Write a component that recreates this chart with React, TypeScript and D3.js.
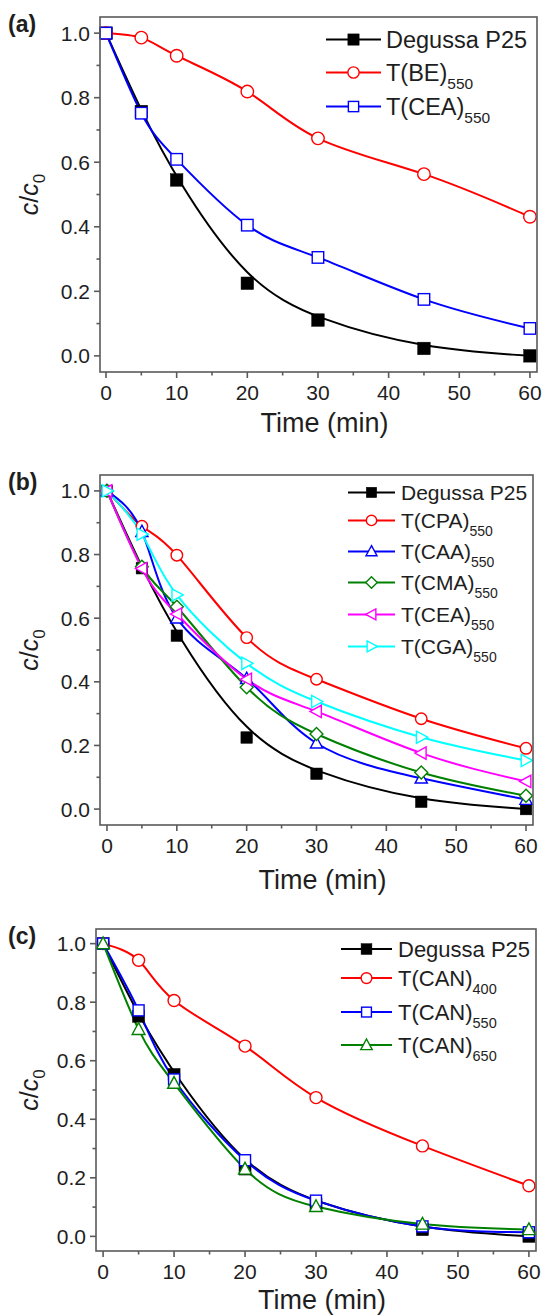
import React from 'react';
import * as d3 from 'd3';

// ---------- data ----------
const TIME = [0, 5, 10, 20, 30, 45, 60];
const X_TICKS = [0, 10, 20, 30, 40, 50, 60];
const X_MINOR = [5, 15, 25, 35, 45, 55];
const Y_TICKS = [0, 0.2, 0.4, 0.6, 0.8, 1.0];
const Y_MINOR = [0.1, 0.3, 0.5, 0.7, 0.9];

// panel (a)
const P25 = [1.0, 0.757, 0.545, 0.225, 0.111, 0.023, 0.0];
const A_BE550 = [1.0, 0.986, 0.93, 0.819, 0.674, 0.563, 0.431];
const A_CEA550 = [1.0, 0.752, 0.609, 0.405, 0.305, 0.175, 0.085];
// panel (b)
const B_CPA550 = [1.0, 0.889, 0.798, 0.539, 0.408, 0.284, 0.191];
const B_CAA550 = [1.0, 0.872, 0.6, 0.41, 0.207, 0.097, 0.03];
const B_CMA550 = [1.0, 0.762, 0.636, 0.383, 0.236, 0.115, 0.042];
const B_CEA550 = [1.0, 0.756, 0.613, 0.408, 0.307, 0.176, 0.087];
const B_CGA550 = [1.0, 0.864, 0.673, 0.458, 0.338, 0.226, 0.153];
// panel (c)
const C_P25 = [1.0, 0.752, 0.553, 0.23, 0.11, 0.023, 0.0];
const C_CAN400 = [1.0, 0.943, 0.806, 0.65, 0.474, 0.309, 0.173];
const C_CAN550 = [1.0, 0.772, 0.536, 0.26, 0.122, 0.034, 0.014];
const C_CAN650 = [1.0, 0.707, 0.523, 0.23, 0.102, 0.042, 0.023];

const NAMES_A = [['Degussa P25', ''], ['T(BE)', '550'], ['T(CEA)', '550']];
const NAMES_B = [['Degussa P25', ''], ['T(CPA)', '550'], ['T(CAA)', '550'], ['T(CMA)', '550'], ['T(CEA)', '550'], ['T(CGA)', '550']];
const NAMES_C = [['Degussa P25', ''], ['T(CAN)', '400'], ['T(CAN)', '550'], ['T(CAN)', '650']];

// ---------- styles ----------
const FONT = '"Liberation Sans", Arial, Helvetica, sans-serif';
const TEXT = '#1e1e1e';
const FRAME = '#5a5a5a';
const BLACK = '#000000';
const RED = '#ff0000';
const BLUE = '#0000ff';
const GREEN = '#008000';
const MAGENTA = '#ff00ff';
const CYAN = '#00ffff';

type Shape = 'squareF' | 'circle' | 'square' | 'triUp' | 'diamond' | 'triLeft' | 'triRight';

interface Series { name: string[]; values: number[]; color: string; shape: Shape; basis?: boolean }
interface Panel {
  letter: string; left: number; right: number; top: number; bottom: number;
  xDom: number[]; tickFont: number; titleFont: number; titleBaseline: number;
  legLine: number[]; legMarker: number; legText: number; legBase: number[]; legFont: number; subFont: number;
  mSize: number; series: Series[];
}

const PANELS: Panel[] = [
  {
    letter: '(a)', left: 100, right: 537, top: 17, bottom: 372, xDom: [-0.85, 61],
    tickFont: 21, titleFont: 27, titleBaseline: 432,
    legLine: [326, 381], legMarker: 353.5, legText: 386, legBase: [48, 81, 115], legFont: 23.5, subFont: 15.5,
    mSize: 12.5,
    series: [
      { name: NAMES_A[0], values: P25, color: BLACK, shape: 'squareF', basis: true },
      { name: NAMES_A[1], values: A_BE550, color: RED, shape: 'circle' },
      { name: NAMES_A[2], values: A_CEA550, color: BLUE, shape: 'square' },
    ],
  },
  {
    letter: '(b)', left: 100, right: 533, top: 475, bottom: 825, xDom: [-1, 61],
    tickFont: 21, titleFont: 27, titleBaseline: 889,
    legLine: [348, 395], legMarker: 371.5, legText: 401, legBase: [500, 528, 559, 590, 622, 654], legFont: 21, subFont: 14,
    mSize: 11.5,
    series: [
      { name: NAMES_B[0], values: P25, color: BLACK, shape: 'squareF', basis: true },
      { name: NAMES_B[1], values: B_CPA550, color: RED, shape: 'circle' },
      { name: NAMES_B[2], values: B_CAA550, color: BLUE, shape: 'triUp' },
      { name: NAMES_B[3], values: B_CMA550, color: GREEN, shape: 'diamond' },
      { name: NAMES_B[4], values: B_CEA550, color: MAGENTA, shape: 'triLeft' },
      { name: NAMES_B[5], values: B_CGA550, color: CYAN, shape: 'triRight' },
    ],
  },
  {
    letter: '(c)', left: 96, right: 536, top: 929, bottom: 1251, xDom: [-1, 61],
    tickFont: 21, titleFont: 27, titleBaseline: 1309,
    legLine: [341, 392], legMarker: 366.5, legText: 398, legBase: [957, 986, 1020, 1053], legFont: 22, subFont: 14.5,
    mSize: 12,
    series: [
      { name: NAMES_C[0], values: C_P25, color: BLACK, shape: 'squareF', basis: true },
      { name: NAMES_C[1], values: C_CAN400, color: RED, shape: 'circle' },
      { name: NAMES_C[2], values: C_CAN550, color: BLUE, shape: 'square' },
      { name: NAMES_C[3], values: C_CAN650, color: GREEN, shape: 'triUp' },
    ],
  },
];

function Marker({ shape, x, y, size, color }: { shape: Shape; x: number; y: number; size: number; color: string }) {
  const h = size / 2;
  const sw = 1.4;
  if (shape === 'circle') return <circle cx={x} cy={y} r={h} fill="#fff" stroke={color} strokeWidth={sw} />;
  if (shape === 'squareF') return <rect x={x - h} y={y - h} width={size} height={size} fill={color} stroke={color} strokeWidth={0.5} />;
  if (shape === 'square') return <rect x={x - h + 0.5} y={y - h + 0.5} width={size - 1} height={size - 1} fill="#fff" stroke={color} strokeWidth={sw} />;
  let pts: number[][] = [];
  const r = h * 1.12;
  if (shape === 'triUp') pts = [[0, -r], [r * 0.95, r * 0.75], [-r * 0.95, r * 0.75]];
  if (shape === 'triLeft') pts = [[-r, 0], [r * 0.75, -r * 0.95], [r * 0.75, r * 0.95]];
  if (shape === 'triRight') pts = [[r, 0], [-r * 0.75, -r * 0.95], [-r * 0.75, r * 0.95]];
  if (shape === 'diamond') pts = [[0, -r], [r, 0], [0, r], [-r, 0]];
  const d = 'M' + pts.map(p => `${x + p[0]},${y + p[1]}`).join('L') + 'Z';
  return <path d={d} fill="#fff" stroke={color} strokeWidth={sw} strokeLinejoin="miter" />;
}

function PanelView({ p }: { p: Panel }) {
  const x = d3.scaleLinear().domain(p.xDom).range([p.left, p.right]);
  const y = d3.scaleLinear().domain([-0.05, 1.05]).range([p.bottom, p.top]);
  const midY = (p.top + p.bottom) / 2;
  const midX = (p.left + p.right) / 2 + 6;
  return (
    <g>
      {/* panel letter */}
      <text x={8} y={p.top + 15} fontFamily={FONT} fontWeight="bold" fontSize={23} fill={TEXT}>{p.letter}</text>
      {/* curves */}
      {p.series.map((s, i) => {
        const line = d3.line<number>()
          .x((_, j) => x(TIME[j]))
          .y(v => y(v))
          .curve(s.basis ? d3.curveBasis : d3.curveNatural);
        return <path key={'l' + i} d={line(s.values) || ''} fill="none" stroke={s.color} strokeWidth={2} />;
      })}
      {p.series.map((s, i) => (
        <g key={'m' + i}>
          {s.values.map((v, j) => (
            <Marker key={j} shape={s.shape} x={x(TIME[j])} y={y(v)} size={p.mSize} color={s.color} />
          ))}
        </g>
      ))}
      {/* frame */}
      <rect x={p.left} y={p.top} width={p.right - p.left} height={p.bottom - p.top} fill="none" stroke={FRAME} strokeWidth={1.6} />
      {/* x ticks */}
      {X_TICKS.map(t => (
        <g key={'xt' + t}>
          <line x1={x(t)} x2={x(t)} y1={p.bottom} y2={p.bottom + 6} stroke={FRAME} strokeWidth={1.6} />
          <text x={x(t)} y={p.bottom + 28} textAnchor="middle" fontFamily={FONT} fontSize={p.tickFont} fill={TEXT}>{t}</text>
        </g>
      ))}
      {X_MINOR.map(t => (
        <line key={'xm' + t} x1={x(t)} x2={x(t)} y1={p.bottom} y2={p.bottom + 3.5} stroke={FRAME} strokeWidth={1.6} />
      ))}
      {/* y ticks */}
      {Y_TICKS.map(t => (
        <g key={'yt' + t}>
          <line x1={p.left - 6} x2={p.left} y1={y(t)} y2={y(t)} stroke={FRAME} strokeWidth={1.6} />
          <text x={p.left - 10} y={y(t) + 7.5} textAnchor="end" fontFamily={FONT} fontSize={p.tickFont} fill={TEXT}>{d3.format('.1f')(t)}</text>
        </g>
      ))}
      {Y_MINOR.map(t => (
        <line key={'ym' + t} x1={p.left - 3.5} x2={p.left} y1={y(t)} y2={y(t)} stroke={FRAME} strokeWidth={1.6} />
      ))}
      {/* axis titles */}
      <text x={midX} y={p.titleBaseline} textAnchor="middle" fontFamily={FONT} fontSize={p.titleFont} fill={TEXT}>Time (min)</text>
      <text transform={`translate(${38},${midY}) rotate(-90)`} textAnchor="middle" fontFamily={FONT} fontSize={25} fill={TEXT}>
        <tspan fontStyle="italic">c</tspan><tspan>/</tspan><tspan fontStyle="italic">c</tspan>
        <tspan fontSize={17} dy={7}>0</tspan>
      </text>
      {/* legend */}
      {p.series.map((s, i) => {
        const b = p.legBase[i];
        const cy = b - p.legFont * 0.36;
        return (
          <g key={'lg' + i}>
            <line x1={p.legLine[0]} x2={p.legLine[1]} y1={cy} y2={cy} stroke={s.color} strokeWidth={2} />
            <Marker shape={s.shape} x={p.legMarker} y={cy} size={p.mSize * 0.9} color={s.color} />
            <text x={p.legText} y={b} fontFamily={FONT} fontSize={p.legFont} fill={TEXT}>
              {s.name[0]}
              {s.name[1] ? <tspan fontSize={p.subFont} dy={8}>{s.name[1]}</tspan> : null}
            </text>
          </g>
        );
      })}
    </g>
  );
}

export default function App() {
  return (
    <svg width={542} height={1316} viewBox="0 0 542 1316"
      style={{ position: 'absolute', left: 0, top: 0, background: '#fff' }}>
      <rect x={0} y={0} width={542} height={1316} fill="#fff" />
      {PANELS.map((p, i) => <PanelView key={i} p={p} />)}
    </svg>
  );
}
